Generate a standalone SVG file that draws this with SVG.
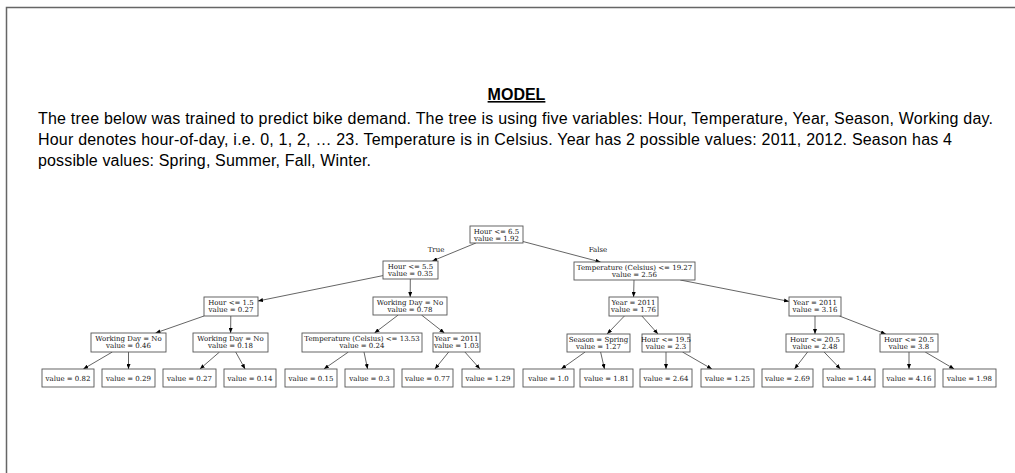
<svg xmlns="http://www.w3.org/2000/svg" width="1015" height="473" viewBox="0 0 1015 473">
<defs>
<marker id="ah" markerWidth="5" markerHeight="4" refX="5" refY="2" orient="auto" markerUnits="userSpaceOnUse">
<path d="M0,0 L5,2 L0,4 z" fill="#000"/>
</marker>
<style>
.hd{font-family:"Liberation Sans",Arial,sans-serif;font-size:16px;fill:#000}
.ttl{font-weight:bold;text-decoration:underline}
.nb{fill:#fff;stroke:#555;stroke-width:0.9}
.nt{font-family:"DejaVu Serif",serif;font-size:7px;fill:#111;text-anchor:middle}
.ed line{stroke:#222;stroke-width:0.7;marker-end:url(#ah)}
.el{font-family:"DejaVu Serif",serif;font-size:7px;fill:#111;text-anchor:middle}
</style>
</defs>
<rect x="0" y="0" width="1015" height="473" fill="#fff"/>
<rect x="6.5" y="7.5" width="1100" height="1000" fill="none" stroke="#666" stroke-width="1.5"/>
<text class="hd ttl" x="516.5" y="100" text-anchor="middle">MODEL</text>
<text class="hd" x="38" y="123.5" textLength="955" lengthAdjust="spacing">The tree below was trained to predict bike demand. The tree is using five variables: Hour, Temperature, Year, Season, Working day.</text>
<text class="hd" x="38" y="144.5" textLength="914" lengthAdjust="spacing">Hour denotes hour-of-day, i.e. 0, 1, 2, … 23. Temperature is in Celsius. Year has 2 possible values: 2011, 2012. Season has 4</text>
<text class="hd" x="38" y="165.5" textLength="333" lengthAdjust="spacing">possible values: Spring, Summer, Fall, Winter.</text>

<g id="edges" class="ed">
<line x1="475.9" y1="243" x2="432.3" y2="261"/>
<line x1="523" y1="241.5" x2="600.5" y2="262"/>
<line x1="383" y1="275.6" x2="258" y2="301"/>
<line x1="410.3" y1="279" x2="410.2" y2="297"/>
<line x1="634" y1="280" x2="633.6" y2="297"/>
<line x1="680.3" y1="280" x2="789" y2="301.4"/>
<line x1="204" y1="316" x2="155.5" y2="333"/>
<line x1="230.8" y1="316" x2="230.6" y2="333"/>
<line x1="398.2" y1="315" x2="374.5" y2="333"/>
<line x1="421.5" y1="315" x2="444.4" y2="333"/>
<line x1="624.4" y1="316" x2="607.1" y2="334"/>
<line x1="641.9" y1="316" x2="658" y2="334"/>
<line x1="815" y1="316" x2="815" y2="334"/>
<line x1="839.5" y1="316" x2="885.8" y2="334"/>
<line x1="112.3" y1="352" x2="83.3" y2="369"/>
<line x1="128.5" y1="352" x2="128.5" y2="369"/>
<line x1="219.5" y1="352" x2="199.9" y2="369"/>
<line x1="235.7" y1="352" x2="245.1" y2="369"/>
<line x1="348.4" y1="352" x2="323.9" y2="369"/>
<line x1="364" y1="352" x2="367.6" y2="369"/>
<line x1="448.7" y1="352" x2="434.9" y2="369"/>
<line x1="464.9" y1="352" x2="480" y2="369"/>
<line x1="585.1" y1="352" x2="561.2" y2="369"/>
<line x1="600.6" y1="352" x2="604.5" y2="369"/>
<line x1="666" y1="352" x2="666" y2="369"/>
<line x1="682.5" y1="352" x2="711.9" y2="369"/>
<line x1="807.6" y1="352" x2="794.5" y2="369"/>
<line x1="824.1" y1="352" x2="840.4" y2="369"/>
<line x1="909" y1="352" x2="909" y2="369"/>
<line x1="925.2" y1="352" x2="954.2" y2="369"/>
</g>
<text class="el" x="436" y="251.5">True</text>
<text class="el" x="598" y="251.5">False</text>

<g id="n0"><rect class="nb" x="470" y="226" width="53" height="17"/><text class="nt" x="496.5" y="233.5">Hour &lt;= 6.5</text><text class="nt" x="496.5" y="240.5">value = 1.92</text></g>
<g id="n1"><rect class="nb" x="383" y="261" width="55" height="18"/><text class="nt" x="410.5" y="268.5">Hour &lt;= 5.5</text><text class="nt" x="410.5" y="275.5">value = 0.35</text></g>
<g id="n2"><rect class="nb" x="574" y="262" width="121" height="18"/><text class="nt" x="634.5" y="269.5">Temperature (Celsius) &lt;= 19.27</text><text class="nt" x="634.5" y="276.5">value = 2.56</text></g>
<g id="n3"><rect class="nb" x="204" y="297" width="54" height="19"/><text class="nt" x="231" y="305">Hour &lt;= 1.5</text><text class="nt" x="231" y="312">value = 0.27</text></g>
<g id="n4"><rect class="nb" x="373" y="297" width="74" height="18"/><text class="nt" x="410" y="304.5">Working Day = No</text><text class="nt" x="410" y="311.5">value = 0.78</text></g>
<g id="n5"><rect class="nb" x="609" y="297" width="49" height="19"/><text class="nt" x="633.5" y="305">Year = 2011</text><text class="nt" x="633.5" y="312">value = 1.76</text></g>
<g id="n6"><rect class="nb" x="789" y="297" width="52" height="19"/><text class="nt" x="815" y="305">Year = 2011</text><text class="nt" x="815" y="312">value = 3.16</text></g>
<g id="n7"><rect class="nb" x="91" y="333" width="75" height="19"/><text class="nt" x="128.5" y="341">Working Day = No</text><text class="nt" x="128.5" y="348">value = 0.46</text></g>
<g id="n8"><rect class="nb" x="193" y="333" width="75" height="19"/><text class="nt" x="230.5" y="341">Working Day = No</text><text class="nt" x="230.5" y="348">value = 0.18</text></g>
<g id="n9"><rect class="nb" x="302" y="333" width="120" height="19"/><text class="nt" x="362" y="341">Temperature (Celsius) &lt;= 13.53</text><text class="nt" x="362" y="348">value = 0.24</text></g>
<g id="n10"><rect class="nb" x="433" y="333" width="47" height="19"/><text class="nt" x="456.5" y="341">Year = 2011</text><text class="nt" x="456.5" y="348">value = 1.03</text></g>
<g id="n11"><rect class="nb" x="567" y="334" width="63" height="18"/><text class="nt" x="598.5" y="341.5">Season = Spring</text><text class="nt" x="598.5" y="348.5">value = 1.27</text></g>
<g id="n12"><rect class="nb" x="642" y="334" width="48" height="18"/><text class="nt" x="666" y="341.5">Hour &lt;= 19.5</text><text class="nt" x="666" y="348.5">value = 2.3</text></g>
<g id="n13"><rect class="nb" x="786" y="334" width="58" height="18"/><text class="nt" x="815" y="341.5">Hour &lt;= 20.5</text><text class="nt" x="815" y="348.5">value = 2.48</text></g>
<g id="n14"><rect class="nb" x="880" y="334" width="58" height="18"/><text class="nt" x="909" y="341.5">Hour &lt;= 20.5</text><text class="nt" x="909" y="348.5">value = 3.8</text></g>

<g id="l1"><rect class="nb" x="42" y="369" width="52" height="18"/><text class="nt" x="68" y="380.5">value = 0.82</text></g>
<g id="l2"><rect class="nb" x="102" y="369" width="53" height="18"/><text class="nt" x="128.5" y="380.5">value = 0.29</text></g>
<g id="l3"><rect class="nb" x="163" y="369" width="53" height="18"/><text class="nt" x="189.5" y="380.5">value = 0.27</text></g>
<g id="l4"><rect class="nb" x="224" y="369" width="52" height="18"/><text class="nt" x="250" y="380.5">value = 0.14</text></g>
<g id="l5"><rect class="nb" x="285" y="369" width="52" height="18"/><text class="nt" x="311" y="380.5">value = 0.15</text></g>
<g id="l6"><rect class="nb" x="345" y="369" width="49" height="18"/><text class="nt" x="369.5" y="380.5">value = 0.3</text></g>
<g id="l7"><rect class="nb" x="402" y="369" width="51" height="18"/><text class="nt" x="427.5" y="380.5">value = 0.77</text></g>
<g id="l8"><rect class="nb" x="462" y="369" width="52" height="18"/><text class="nt" x="488" y="380.5">value = 1.29</text></g>
<g id="l9"><rect class="nb" x="523" y="369" width="51" height="18"/><text class="nt" x="548.5" y="380.5">value = 1.0</text></g>
<g id="l10"><rect class="nb" x="580" y="369" width="53" height="18"/><text class="nt" x="606.5" y="380.5">value = 1.81</text></g>
<g id="l11"><rect class="nb" x="640" y="369" width="52" height="18"/><text class="nt" x="666" y="380.5">value = 2.64</text></g>
<g id="l12"><rect class="nb" x="701" y="369" width="53" height="18"/><text class="nt" x="727.5" y="380.5">value = 1.25</text></g>
<g id="l13"><rect class="nb" x="762" y="369" width="51" height="18"/><text class="nt" x="787.5" y="380.5">value = 2.69</text></g>
<g id="l14"><rect class="nb" x="823" y="369" width="52" height="18"/><text class="nt" x="849" y="380.5">value = 1.44</text></g>
<g id="l15"><rect class="nb" x="883" y="369" width="52" height="18"/><text class="nt" x="909" y="380.5">value = 4.16</text></g>
<g id="l16"><rect class="nb" x="943" y="369" width="53" height="18"/><text class="nt" x="969.5" y="380.5">value = 1.98</text></g>
</svg>
